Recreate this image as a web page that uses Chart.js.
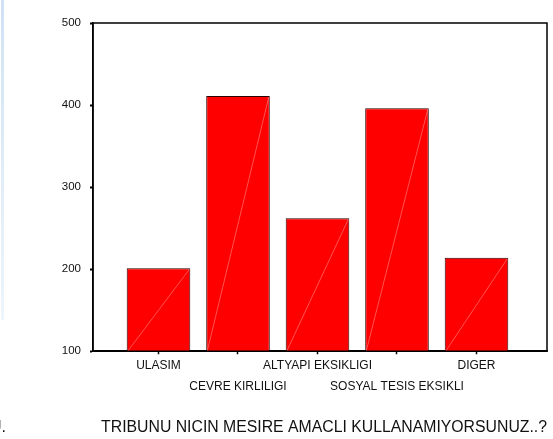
<!DOCTYPE html>
<html>
<head>
<meta charset="utf-8">
<script src="https://cdn.jsdelivr.net/npm/chart.js@4/dist/chart.umd.min.js"></script>
<style>
  html, body { margin: 0; padding: 0; background: #fff; }
  #wrap { position: relative; width: 553px; height: 439px; overflow: hidden; }
  #edge { position: absolute; left: 1px; top: 0; width: 3px; height: 320px;
          background: linear-gradient(#cfe2f3, #eef5fb); }
  #cut { position: absolute; left: -10px; top: 418px; font: 16px 'Liberation Sans', Arial, sans-serif; color: #111; }
</style>
</head>
<body>
<div id="wrap">
  <canvas id="chart" width="553" height="439"></canvas>
  <div id="edge"></div>
  <span id="cut">U.</span>
</div>
<script>
// --- data ---
const categories = ['ULASIM', 'CEVRE KIRLILIGI', 'ALTYAPI EKSIKLIGI', 'SOSYAL TESIS EKSIKLI', 'DIGER'];
const counts = [201, 411, 262, 396, 214];
const yTicks = [100, 200, 300, 400, 500];
const chartTitle = 'TRIBUNU NICIN MESIRE AMACLI KULLANAMIYORSUNUZ..?';

const FONT = "'Liberation Sans', Arial, sans-serif";

// plot frame (top + right edges, like the SPSS box)
const frame = {
  id: 'frame',
  afterDraw(chart) {
    const { ctx, chartArea: a } = chart;
    ctx.save();
    ctx.strokeStyle = '#000';
    ctx.lineWidth = 1.5;
    ctx.strokeRect(a.left, a.top, a.right - a.left, a.bottom - a.top);
    ctx.restore();
  }
};

// the thin light diagonal SPSS draws inside every bar
const diagonals = {
  id: 'diagonals',
  afterDatasetsDraw(chart) {
    const { ctx, chartArea: a } = chart;
    ctx.save();
    ctx.beginPath();
    ctx.rect(a.left, a.top, a.right - a.left, a.bottom - a.top);
    ctx.clip();
    ctx.strokeStyle = 'rgba(255,150,150,0.9)';
    ctx.lineWidth = 0.6;
    chart.getDatasetMeta(0).data.forEach(bar => {
      const { x, y, width } = bar.getProps(['x', 'y', 'width'], true);
      ctx.beginPath();
      ctx.moveTo(x - width / 2 + 1, a.bottom);
      ctx.lineTo(x + width / 2 - 1, y + 1);
      ctx.stroke();
    });
    ctx.restore();
  }
};

new Chart(document.getElementById('chart'), {
  type: 'bar',
  data: {
    datasets: [{
      data: counts.map((v, i) => ({ x: i + 1, y: v })),
      backgroundColor: '#ff0000',
      borderColor: '#2a0000',
      borderWidth: 1,
      barPercentage: 0.8,
      categoryPercentage: 1
    }]
  },
  options: {
    responsive: false,
    animation: false,
    layout: { padding: { left: 0, right: 6, top: 23, bottom: 0 } },
    plugins: {
      legend: { display: false },
      tooltip: { enabled: false },
      title: {
        display: true,
        text: chartTitle,
        position: 'bottom',
        align: 'end',
        color: '#111',
        font: { family: FONT, size: 15.8, weight: 'normal', lineHeight: 1.2 },
        padding: { top: 0, bottom: 2 }
      }
    },
    scales: {
      x: {
        type: 'linear',
        offset: false,
        min: 0.1761,
        max: 5.8868,
        afterFit: s => { s.height = 66.8; },
        afterBuildTicks: s => { s.ticks = categories.map((_, i) => ({ value: i + 1 })); },
        grid: { display: true, offset: false, drawOnChartArea: false, color: '#000', tickLength: 3, tickWidth: 1.5 },
        border: { display: true, color: '#000', width: 1.5 },
        ticks: {
          autoSkip: false,
          maxRotation: 0,
          padding: 1,
          color: '#111',
          font: { family: FONT, size: 12, lineHeight: '21px' },
          callback: v => {
            const i = Math.round(v) - 1;
            return i % 2 === 0 ? [categories[i]] : ['', categories[i]];
          }
        }
      },
      y: {
        min: yTicks[0],
        max: yTicks[yTicks.length - 1],
        afterFit: s => { s.width = 93; },
        afterBuildTicks: s => { s.ticks = yTicks.map(v => ({ value: v })); },
        grid: { display: true, drawOnChartArea: false, color: '#000', tickLength: 3, tickWidth: 2 },
        border: { display: true, color: '#000', width: 1.5 },
        ticks: {
          padding: 9,
          color: '#111',
          font: { family: FONT, size: 11.5 }
        }
      }
    }
  },
  plugins: [frame, diagonals]
});
</script>
</body>
</html>
